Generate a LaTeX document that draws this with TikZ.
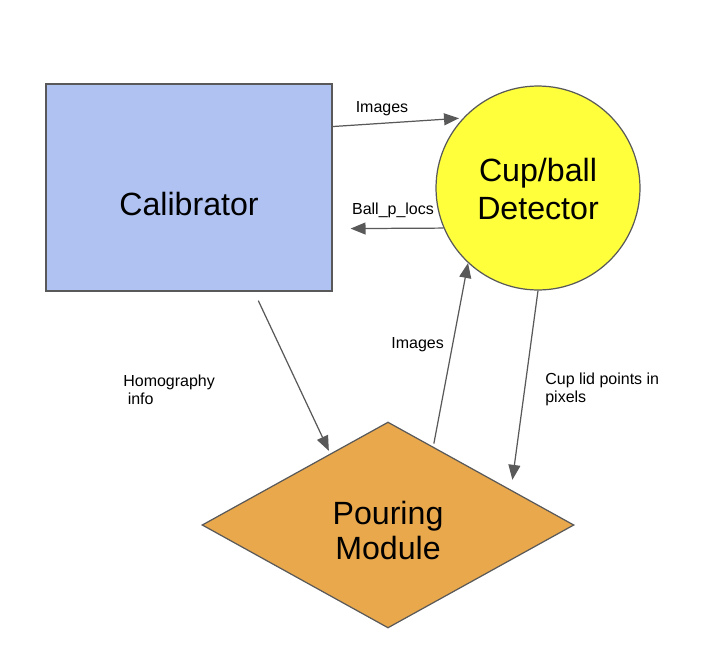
\documentclass[tikz,border=0pt]{standalone}
\usepackage{fontspec}
\setmainfont{Liberation Sans}
\usetikzlibrary{shapes.geometric, arrows.meta}
\definecolor{CalibratorFill}{HTML}{AFC2F2}
\definecolor{DetectorFill}{HTML}{FFFF3C}
\definecolor{PouringFill}{HTML}{E9A84C}
\definecolor{EdgeGray}{HTML}{595959}
\tikzset{
  block/.style={draw=EdgeGray, line width=0.7pt, inner sep=0pt, font=\fontsize{18.3}{20.4}\selectfont},
  flow/.style={draw=EdgeGray, line width=0.7pt, -{Triangle[length=8.5pt, width=6.8pt]}},
  note/.style={inner sep=0pt, font=\fontsize{9.1}{10.2}\selectfont}
}

\begin{document}
\begin{tikzpicture}[x=0.02cm, y=-0.02cm]
\useasboundingbox (0,0) rectangle (710,656);

\node[block, fill=CalibratorFill, minimum width=5.72cm, minimum height=4.14cm,
  text height=32pt, text depth=0pt] (calib) at (189,187.5) {Calibrator};
\node[block, circle, fill=DetectorFill, minimum size=4.08cm, align=center,
  text height=36.3pt, text depth=0pt] (det) at (538,188) {Cup/ball\\[1.3pt]Detector};
\node[block, diamond, aspect=1.8, fill=PouringFill, minimum width=7.44cm,
  minimum height=4.12cm, align=center, text height=39.7pt, text depth=0pt]
  (pour) at (388,525) {Pouring\\Module};

\draw[flow, shorten >=0.08cm] (calib.23.3) -- (det.137);
\draw[flow, shorten >=0.36cm] (det.203.9) -- (calib.-16.3);
\draw[flow, shorten <=0.2cm, shorten >=0.06cm] (calib.-58.1) -- (pour.129.6);
\draw[flow, shorten <=0.06cm] (pour.60.7) -- (det.227.6);
\draw[flow, shorten >=0.2cm] (det.south) -- (pour.16.1);

\node[note, anchor=base] (imgTop) at (382,112) {Images};
\node[note, anchor=base] (ballLocs) at (393,214) {Ball\_p\_locs};
\node[note, anchor=north west, align=left] (homInfo) at (123,374.4) {Homography\\\mbox{} info};
\node[note, anchor=base west] (imgUp) at (391,348.3) {Images};
\node[note, anchor=north west, align=left] (cupLid) at (545,372.3) {Cup lid points in\\pixels};

\end{tikzpicture}
\end{document}
